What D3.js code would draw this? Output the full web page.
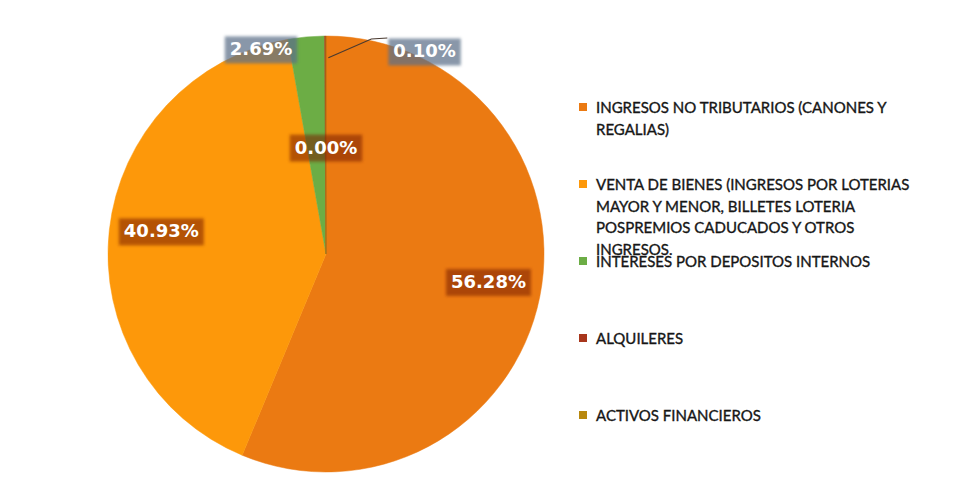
<!DOCTYPE html>
<html>
<head>
<meta charset="utf-8">
<script src="https://cdn.jsdelivr.net/npm/d3@7"></script>
<style>
  body { margin: 0; background: #fff; }
</style>
</head>
<body>
<div id="chart"></div>
<script>

// categories (legend text, already wrapped like the original)
const categories = [
    "INGRESOS NO TRIBUTARIOS (CANONES Y REGALIAS)",
    "VENTA DE BIENES (INGRESOS POR LOTERIAS MAYOR Y MENOR, BILLETES LOTERIA POSPREMIOS CADUCADOS Y OTROS INGRESOS.",
    "INTERESES POR DEPOSITOS INTERNOS",
    "ALQUILERES",
    "ACTIVOS FINANCIEROS"
];
const legendLines = [
    ["INGRESOS NO TRIBUTARIOS (CANONES Y", "REGALIAS)"],
    ["VENTA DE BIENES (INGRESOS POR LOTERIAS", "MAYOR Y MENOR, BILLETES LOTERIA", "POSPREMIOS CADUCADOS Y OTROS", "INGRESOS."],
    ["INTERESES POR DEPOSITOS INTERNOS"],
    ["ALQUILERES"],
    ["ACTIVOS FINANCIEROS"]
];
// share of each category, percent
const values = [56.28, 40.93, 2.69, 0.10, 0.00];
const colors = ["#EB7A12", "#FD980A", "#6CAD45", "#A8361C", "#B8880E"];

function main() {

    const width = 969, height = 495;
    const cx = 326, cy = 254, r = 218;

    const svg = d3.select("#chart")
        .append("svg")
        .attr("width", width)
        .attr("height", height);

    const defs = svg.append("defs");
    defs.append("filter").attr("id", "soft")
        .attr("x", "-20%").attr("y", "-40%").attr("width", "140%").attr("height", "180%")
        .append("feGaussianBlur").attr("stdDeviation", 1.6);

    const color = d3.scaleOrdinal().domain(categories).range(colors);

    const pie = d3.pie().sort(null).value(function(d, i) { return values[i]; });
    const arcs = pie(categories);

    const arc = d3.arc().innerRadius(0).outerRadius(r);

    const g = svg.append("g").attr("transform", `translate(${cx},${cy})`);

    g.selectAll("path.slice")
        .data(arcs)
        .join("path")
        .attr("class", "slice")
        .attr("d", arc)
        .attr("fill", function(d) { return color(d.data); })
        .attr("stroke", function(d) { return color(d.data); })
        .attr("stroke-width", 0.5);

    // data labels
    const fmt = function(v) { return v.toFixed(2) + "%"; };
    const insideArc = d3.arc().innerRadius(r * 0.76).outerRadius(r * 0.76);
    const zeroArc = d3.arc().innerRadius(r * 0.49).outerRadius(r * 0.49);

    arcs.forEach(function(d) {
        const v = values[d.index];
        const mid = (d.startAngle + d.endAngle) / 2;
        let x, y, anchor = "middle", outside = false;
        if (v >= 10) {
            [x, y] = insideArc.centroid(d);
            y -= 5;
        } else if (v === 0) {
            [x, y] = zeroArc.centroid(d);
        } else {
            outside = true;
            const ex = Math.sin(mid) * r, ey = -Math.cos(mid) * r;
            if (v >= 1) {
                // placed beside the arc, to the left
                x = ex - 14; y = ey + 12; anchor = "end";
            } else {
                // leader line out to the right
                const sx = Math.sin(mid) * r * 0.9 + 3, sy = -Math.cos(mid) * r * 0.9;
                g.append("polyline")
                    .attr("points", [[sx, sy], [ex + 46, ey + 3], [ex + 62, ey + 2]].map(p => p.join(",")).join(" "))
                    .attr("fill", "none")
                    .attr("stroke", "#4a3a30")
                    .attr("stroke-width", 1.2);
                x = ex + 68; y = ey + 15; anchor = "start";
            }
        }

        const lg = g.append("g");
        const box = lg.append("rect").attr("filter", "url(#soft)");
        const t = lg.append("text")
            .attr("x", x)
            .attr("y", y)
            .attr("dy", "0.36em")
            .attr("text-anchor", anchor)
            .attr("font-family", "DejaVu Sans")
            .attr("font-weight", "bold")
            .attr("font-size", "18px")
            .attr("fill", "#fff")
            .text(fmt(v));
        const bb = t.node().getBBox();
        box.attr("x", bb.x - 5).attr("y", bb.y - 2)
            .attr("width", bb.width + 10).attr("height", bb.height + 6)
            .attr("fill", outside ? "#5c7089" : "#7a1c02")
            .attr("opacity", outside ? 0.72 : 0.55);
    });

    // legend
    const legend = svg.append("g").attr("transform", "translate(579,107)");
    const item = legend.selectAll("g")
        .data(categories)
        .join("g")
        .attr("transform", function(d, i) { return `translate(0,${i * 77})`; });

    item.append("rect")
        .attr("x", 0).attr("y", -4)
        .attr("width", 8).attr("height", 8)
        .attr("fill", function(d) { return color(d); });

    item.each(function(d, i) {
        const t = d3.select(this).append("text")
            .attr("font-family", "Lato")
            .attr("font-size", "15px")
            .attr("fill", "#161616")
            .attr("stroke", "#161616")
            .attr("stroke-width", 0.35);
        legendLines[i].forEach(function(line, j) {
            t.append("tspan")
                .attr("x", 17)
                .attr("y", 6 + j * 21.5)
                .text(line);
        });
    });
}

main()

</script>
</body>
</html>
